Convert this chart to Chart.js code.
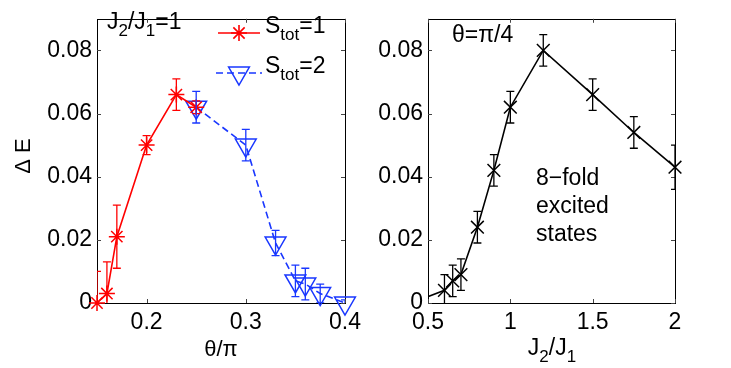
<!DOCTYPE html>
<html>
<head>
<meta charset="utf-8">
<script src="https://cdn.jsdelivr.net/npm/chart.js@4"></script>
<style>
  html, body { margin: 0; padding: 0; background: #fff; }
  #wrap { position: relative; width: 731px; height: 368px; overflow: hidden; }
  #leftBox { position: absolute; left: 0; top: 0; width: 370px; height: 368px; }
  #rightBox { position: absolute; left: 370px; top: 0; width: 361px; height: 368px; }
</style>
</head>
<body>
<div id="wrap">
  <div id="leftBox"><canvas id="leftChart" width="370" height="368"></canvas></div>
  <div id="rightBox"><canvas id="rightChart" width="361" height="368"></canvas></div>
</div>
<script>
const FONT = '"Liberation Sans", Arial, Helvetica, sans-serif';

// left panel: gap vs theta/pi at J2/J1 = 1
const s1Theta = [0.15, 0.16, 0.17, 0.20, 0.23, 0.25];
const s1Gap   = [0.000, 0.003, 0.021, 0.050, 0.066, 0.062];
const s1Err   = [0.010, 0.010, 0.010, 0.003, 0.005, 0.002];

const s2Theta = [0.25, 0.30, 0.33, 0.35, 0.36, 0.375, 0.40];
const s2Gap   = [0.062, 0.050, 0.019, 0.007, 0.006, 0.003, 0.000];
const s2Err   = [0.005, 0.005, 0.004, 0.005, 0.005, 0.003, 0.001];

// right panel: gap vs J2/J1 at theta = pi/4
const ratioJ   = [0.4, 0.6, 0.65, 0.7, 0.8, 0.9, 1.0, 1.2, 1.5, 1.75, 2.0];
const ratioGap = [0.000, 0.004, 0.007, 0.009, 0.024, 0.042, 0.062, 0.080, 0.066, 0.054, 0.043];
const ratioErr = [0, 0.005, 0.005, 0.005, 0.005, 0.005, 0.005, 0.005, 0.005, 0.005, 0.007];

// ticks
const gapTicks    = [0, 0.02, 0.04, 0.06, 0.08];
const gapLabels   = ['0', '0.02', '0.04', '0.06', '0.08'];
const thetaTicks  = [0.2, 0.3, 0.4];
const thetaLabels = ['0.2', '0.3', '0.4'];
const ratioTicks  = [0.5, 1, 1.5, 2];
const ratioLabels = ['0.5', '1', '1.5', '2'];

const CAP = 4;       // error bar cap half width
const TICK_LEN = 4;  // inner tick length

function pts(xs, ys) { return xs.map((x, i) => ({ x: x, y: ys[i] })); }

// text with subscripts: parts = [[text, isSub], ...]
function drawRich(ctx, parts, x, y, size, align) {
  const subSize = Math.round(size * 0.72);
  ctx.save();
  ctx.fillStyle = '#000';
  ctx.textBaseline = 'alphabetic';
  ctx.textAlign = 'left';
  let w = 0;
  parts.forEach(p => { ctx.font = (p[1] ? subSize : size) + 'px ' + FONT; w += ctx.measureText(p[0]).width; });
  let cx = align === 'center' ? x - w / 2 : x;
  parts.forEach(p => {
    ctx.font = (p[1] ? subSize : size) + 'px ' + FONT;
    ctx.fillText(p[0], cx, p[1] ? y + size * 0.32 : y);
    cx += ctx.measureText(p[0]).width;
  });
  ctx.restore();
}

// vertical error bars with caps, clipped to the plot box
const errorBars = {
  id: 'errorBars',
  afterDatasetsDraw(chart) {
    const ctx = chart.ctx, area = chart.chartArea;
    const xs = chart.scales.x, ys = chart.scales.y;
    ctx.save();
    ctx.beginPath();
    ctx.rect(area.left, area.top, area.right - area.left, area.bottom - area.top);
    ctx.clip();
    chart.data.datasets.forEach(ds => {
      if (!ds.errors) return;
      ctx.strokeStyle = ds.borderColor;
      ctx.lineWidth = 1.3;
      ctx.setLineDash([]);
      ds.data.forEach((p, i) => {
        const e = ds.errors[i];
        if (!e) return;
        const px = xs.getPixelForValue(p.x);
        const y1 = ys.getPixelForValue(p.y - e);
        const y2 = ys.getPixelForValue(p.y + e);
        ctx.beginPath();
        ctx.moveTo(px, y1); ctx.lineTo(px, y2);
        ctx.moveTo(px - CAP, y1); ctx.lineTo(px + CAP, y1);
        ctx.moveTo(px - CAP, y2); ctx.lineTo(px + CAP, y2);
        ctx.stroke();
      });
    });
    ctx.restore();
  }
};

// matlab style box with ticks pointing inwards on all four sides
const frame = {
  id: 'frame',
  beforeDatasetsDraw(chart) {
    const ctx = chart.ctx, a = chart.chartArea;
    const xs = chart.scales.x, ys = chart.scales.y;
    ctx.save();
    ctx.strokeStyle = '#000';
    ctx.lineWidth = 1;
    ctx.strokeRect(Math.round(a.left) + 0.5, Math.round(a.top) + 0.5,
      Math.round(a.right - a.left), Math.round(a.bottom - a.top));
    ctx.strokeStyle = '#444';
    ctx.beginPath();
    xs.ticks.forEach(t => {
      const px = Math.round(xs.getPixelForValue(t.value)) + 0.5;
      ctx.moveTo(px, a.bottom); ctx.lineTo(px, a.bottom - TICK_LEN);
      ctx.moveTo(px, a.top); ctx.lineTo(px, a.top + TICK_LEN);
    });
    ys.ticks.forEach(t => {
      const py = Math.round(ys.getPixelForValue(t.value)) + 0.5;
      ctx.moveTo(a.left, py); ctx.lineTo(a.left + TICK_LEN, py);
      ctx.moveTo(a.right, py); ctx.lineTo(a.right - TICK_LEN, py);
    });
    ctx.stroke();
    ctx.restore();
  }
};

function decor(fn) {
  return { id: 'decor', afterDraw(chart) { fn(chart.ctx, chart); } };
}

function scalesFor(xMin, xMax, xTicks, xLabels, yWidth) {
  const tickFont = { family: FONT, size: 23 };
  return {
    x: {
      type: 'linear', min: xMin, max: xMax,
      grid: { display: false, drawTicks: false },
      border: { display: false },
      afterBuildTicks: s => { s.ticks = xTicks.map(v => ({ value: v })); },
      afterFit: s => { s.height = 65; },
      ticks: { font: tickFont, color: '#000', padding: 6, maxRotation: 0,
        callback: v => xLabels[xTicks.indexOf(v)] }
    },
    y: {
      type: 'linear', min: 0, max: 0.09,
      grid: { display: false, drawTicks: false },
      border: { display: false },
      afterBuildTicks: s => { s.ticks = gapTicks.map(v => ({ value: v })); },
      afterFit: s => { s.width = yWidth; },
      ticks: { font: tickFont, color: '#000', padding: 5,
        callback: v => gapLabels[gapTicks.indexOf(v)] }
    }
  };
}

const common = {
  responsive: false,
  animation: false,
  plugins: { legend: { display: false }, tooltip: { enabled: false } }
};

const RED = '#ff0000';
const BLUE = 'rgb(25,55,255)';

new Chart(document.getElementById('leftChart'), {
  type: 'scatter',
  data: {
    datasets: [
      {
        data: pts(s1Theta, s1Gap), errors: s1Err, showLine: true,
        borderColor: RED, backgroundColor: 'rgba(0,0,0,0)', borderWidth: 1.6,
        pointStyle: 'star', pointRadius: 8, pointBorderWidth: 1.5, clip: false
      },
      {
        data: pts(s2Theta, s2Gap), errors: s2Err, showLine: true,
        borderColor: BLUE, backgroundColor: 'rgba(0,0,0,0)', borderWidth: 1.6, borderDash: [7, 4],
        pointStyle: 'triangle', pointRotation: 180, pointRadius: 12, pointBorderWidth: 1.5, clip: false
      }
    ]
  },
  options: Object.assign({}, common, {
    layout: { padding: { left: 0, right: 25, top: 5, bottom: 0 } },
    scales: scalesFor(0.15, 0.4, thetaTicks, thetaLabels, 97)
  }),
  plugins: [frame, errorBars, decor((ctx, chart) => {
    drawRich(ctx, [['J'], ['2', 1], ['/J'], ['1', 1], ['=1']], 107, 29, 23, 'left');

    // legend
    ctx.save();
    ctx.lineWidth = 1.6;
    ctx.strokeStyle = RED;
    ctx.beginPath(); ctx.moveTo(218, 33); ctx.lineTo(260, 33); ctx.stroke();
    ctx.fillStyle = 'rgba(0,0,0,0)';
    Chart.helpers.drawPoint(ctx, { pointStyle: 'star', radius: 8, rotation: 0, borderWidth: 1.5 }, 239, 33);
    ctx.strokeStyle = BLUE;
    ctx.setLineDash([7, 4]);
    ctx.beginPath(); ctx.moveTo(216, 73); ctx.lineTo(262, 73); ctx.stroke();
    ctx.setLineDash([]);
    ctx.lineWidth = 1.5;
    Chart.helpers.drawPoint(ctx, { pointStyle: 'triangle', radius: 12, rotation: 180, borderWidth: 1.5 }, 239, 73);
    ctx.restore();
    drawRich(ctx, [['S'], ['tot', 1], ['=1']], 265, 33, 23, 'left');
    drawRich(ctx, [['S'], ['tot', 1], ['=2']], 265, 73, 23, 'left');

    // axis titles
    drawRich(ctx, [['θ/π']], 221, 356, 22, 'center');
    ctx.save();
    ctx.translate(30, 156);
    ctx.rotate(-Math.PI / 2);
    drawRich(ctx, [['Δ E']], 0, 0, 22, 'center');
    ctx.restore();
  })]
});

new Chart(document.getElementById('rightChart'), {
  type: 'scatter',
  data: {
    datasets: [
      {
        data: pts(ratioJ, ratioGap), errors: ratioErr, showLine: true,
        borderColor: '#000', backgroundColor: 'rgba(0,0,0,0)', borderWidth: 1.6,
        pointStyle: 'crossRot', pointRadius: 9, pointBorderWidth: 1.5,
        clip: { left: 0, top: false, right: false, bottom: false }
      }
    ]
  },
  options: Object.assign({}, common, {
    layout: { padding: { left: 0, right: 56, top: 5, bottom: 0 } },
    scales: scalesFor(0.5, 2, ratioTicks, ratioLabels, 58)
  }),
  plugins: [frame, errorBars, decor((ctx, chart) => {
    drawRich(ctx, [['θ=π/4']], 82, 42, 23, 'left');
    drawRich(ctx, [['8−fold']], 166, 185, 23, 'left');
    drawRich(ctx, [['excited']], 166, 213, 23, 'left');
    drawRich(ctx, [['states']], 166, 241, 23, 'left');
    drawRich(ctx, [['J'], ['2', 1], ['/J'], ['1', 1]], 182, 355, 23, 'center');
  })]
});
</script>
</body>
</html>
